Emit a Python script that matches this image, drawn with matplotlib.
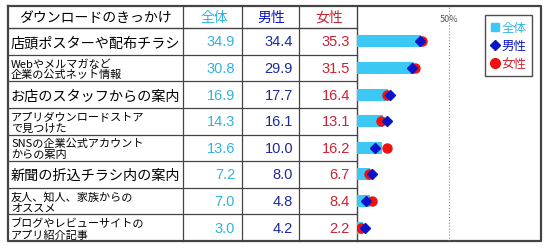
import matplotlib
matplotlib.use("Agg")
import matplotlib.pyplot as plt
from matplotlib.lines import Line2D

plt.rcParams["font.family"] = ["Noto Sans CJK JP", "DejaVu Sans"]

# data
labels = [
    "店頭ポスターや配布チラシ",
    "Webやメルマガなど\n企業の公式ネット情報",
    "お店のスタッフからの案内",
    "アプリダウンロードストア\nで見つけた",
    "SNSの企業公式アカウント\nからの案内",
    "新聞の折込チラシ内の案内",
    "友人、知人、家族からの\nオススメ",
    "ブログやレビューサイトの\nアプリ紹介記事",
]
total = [34.9, 30.8, 16.9, 14.3, 13.6, 7.2, 7.0, 3.0]
male = [34.4, 29.9, 17.7, 16.1, 10.0, 8.0, 4.8, 4.2]
female = [35.3, 31.5, 16.4, 13.1, 16.2, 6.7, 8.4, 2.2]
header = ["ダウンロードのきっかけ", "全体", "男性", "女性"]

c_total = "#3cc8f5"
c_total_txt = "#2fb4e0"
c_male = "#0a14c8"
c_male_txt = "#1e2a9a"
c_female = "#ee1111"
c_female_txt = "#cc2233"

W, H = 550, 251
fig = plt.figure(figsize=(W / 100, H / 100), dpi=100)

# pixel-space canvas for the table
base = fig.add_axes([0, 0, 1, 1])
base.set_xlim(0, W)
base.set_ylim(H, 0)
base.axis("off")

top, head_bot, bot = 7, 29, 242
cols = [8, 183, 242, 299, 357, 541]
n = len(labels)
row_h = (bot - head_bot) / n
row_edges = [head_bot + i * row_h for i in range(n + 1)]

lc = "#444444"
# horizontal lines
base.plot([cols[0], cols[4]], [head_bot, head_bot], color=lc, lw=1)
for y in row_edges[1:-1]:
    base.plot([cols[0], cols[4]], [y, y], color=lc, lw=0.9)
# vertical lines
for x in cols[1:4]:
    base.plot([x, x], [top, bot], color=lc, lw=0.9)
base.plot([cols[4], cols[4]], [top, bot], color=lc, lw=1)
# outer frame
base.plot([cols[0], cols[5], cols[5], cols[0], cols[0]],
          [top, top, bot, bot, top], color=lc, lw=1.6)

# header text
hx = [(cols[0] + cols[1]) / 2, (cols[1] + cols[2]) / 2 + 2,
      (cols[2] + cols[3]) / 2 + 1, (cols[3] + cols[4]) / 2 + 1]
hcol = ["black", c_total_txt, c_male, c_female_txt]
hy = (top + head_bot) / 2
for x, t, c in zip(hx, header, hcol):
    base.text(x, hy, t, ha="center", va="center", fontsize=10, color=c)

for i, lab in enumerate(labels):
    yc = (row_edges[i] + row_edges[i + 1]) / 2
    fs = 10.2 if "\n" not in lab else 8.0
    base.text(cols[0] + 3, yc + 0.8, lab, ha="left", va="center", fontsize=fs,
              linespacing=1.08, color="black")
    base.text(cols[2] - 7, yc, f"{total[i]:.1f}", ha="right", va="center",
              fontsize=10.5, color=c_total_txt, family="Liberation Sans")
    base.text(cols[3] - 6, yc, f"{male[i]:.1f}", ha="right", va="center",
              fontsize=10.5, color=c_male_txt, family="Liberation Sans")
    base.text(cols[4] - 7, yc, f"{female[i]:.1f}", ha="right", va="center",
              fontsize=10.5, color=c_female_txt, family="Liberation Sans")

# chart area
ax = fig.add_axes([cols[4] / W, (H - bot) / H, (cols[5] - cols[4]) / W,
                   (bot - top) / H])
ax.patch.set_alpha(0)
ax.set_xlim(0, 100)
ax.set_ylim(n - 0.5, -0.5 - (head_bot - top) / row_h)
for s in ax.spines.values():
    s.set_visible(False)
ax.set_xticks([])
ax.set_yticks([])

ypos = list(range(n))
ax.barh(ypos, total, height=0.45, color=c_total, zorder=2)
ax.plot(female, ypos, "o", color=c_female, ms=6.5, zorder=3, ls="none")
ax.plot(male, ypos, "D", color=c_male, ms=5, zorder=4, ls="none")
ax.axvline(50, color="#888888", lw=0.8, ls=":", zorder=1)
ax.text(50, -0.5 - (head_bot - top) / row_h + 0.3, "50%", ha="center",
        va="top", fontsize=6.5, color="#555555")

handles = [
    Line2D([], [], marker="s", color=c_total, ls="none", ms=5.5),
    Line2D([], [], marker="D", color=c_male, ls="none", ms=5.5),
    Line2D([], [], marker="o", color=c_female, ls="none", ms=7),
]
leg = ax.legend(handles, ["全体", "男性", "女性"], loc="upper right",
                bbox_to_anchor=(0.95, 0.96), fontsize=9, frameon=True,
                fancybox=False, handlelength=0.7, handletextpad=0.15,
                borderpad=0.45, labelspacing=0.4, borderaxespad=0)
leg.get_frame().set_edgecolor("#222222")
leg.get_frame().set_linewidth(1.0)
for t, c in zip(leg.get_texts(), [c_total_txt, c_male, c_female_txt]):
    t.set_color(c)

fig.savefig("out.png", dpi=100)
